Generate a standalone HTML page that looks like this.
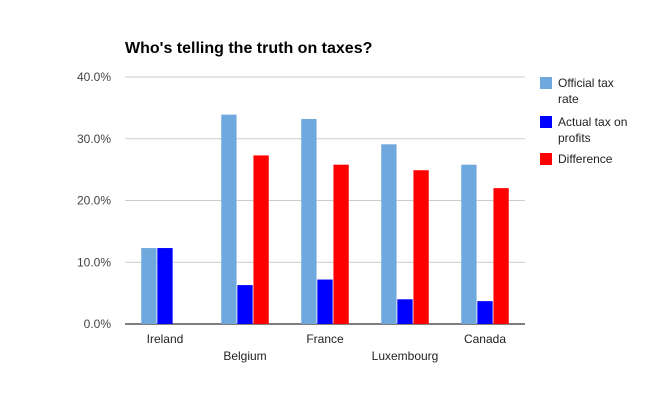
<!DOCTYPE html>
<html><head><meta charset="utf-8"><style>
body{margin:0;background:#fff;font-family:"Liberation Sans",Arial,sans-serif}
</style></head><body>
<svg id="chart" width="650" height="402" xmlns="http://www.w3.org/2000/svg" font-family="Liberation Sans, Arial, sans-serif">
<text x="125" y="53" font-size="16" font-weight="bold" fill="#000">Who's telling the truth on taxes?</text>
<g id="grid"></g><g id="bars"></g><g id="xlabels"></g><g id="ylabels"></g>
<g font-size="12" fill="#222">
<rect x="540" y="77" width="12" height="12" fill="#6fa8dc"/>
<text x="558" y="87">Official tax</text>
<text x="558" y="103">rate</text>
<rect x="540" y="116" width="12" height="12" fill="#0000ff"/>
<text x="558" y="126">Actual tax on</text>
<text x="558" y="142">profits</text>
<rect x="540" y="153" width="12" height="12" fill="#ff0000"/>
<text x="558" y="163">Difference</text>
</g>
</svg>
<script>
const categories=["Ireland","Belgium","France","Luxembourg","Canada"];
const officialRate=[12.3,33.9,33.2,29.1,25.8];
const actualTax=[12.3,6.3,7.2,4.0,3.7];
const difference=[0,27.3,25.8,24.9,22.0];
const yTicks=[0,10,20,30,40];
const ns="http://www.w3.org/2000/svg";
const L=125,R=525,T=77,B=324,yMax=40;
const y=v=>B-(v/yMax)*(B-T);
const band=(R-L)/categories.length;
function mk(tag,attrs,parent){const e=document.createElementNS(ns,tag);for(const k in attrs)e.setAttribute(k,attrs[k]);document.getElementById(parent).appendChild(e);return e;}
yTicks.forEach(t=>{
 const l=mk("line",{x1:L,x2:R,y1:y(t),y2:y(t),stroke:t===0?"#333":"#ccc","stroke-width":t===0?1.2:1},"grid");
 
 
 const tx=mk("text",{x:111,y:y(t)+4,"text-anchor":"end","font-size":12,fill:"#444"},"ylabels");
 tx.textContent=t.toFixed(1)+"%";
 
 
});
const series=[[officialRate,"#6fa8dc","official"],[actualTax,"#0000ff","actual"],[difference,"#ff0000","difference"]];
const bw=15.3,gap=0.8;
categories.forEach((c,i)=>{
 const x0=L+i*band+(band-3*bw-2*gap)/2;
 series.forEach((s,j)=>{
  const v=s[0][i]; if(v<=0)return;
  const r=mk("rect",{x:x0+j*(bw+gap),y:y(v),width:bw,height:B-y(v),fill:s[1]},"bars");
  
  
 });
 const tx=mk("text",{x:L+i*band+band/2,y:i%2===0?343:360,"text-anchor":"middle","font-size":12,fill:"#222"},"xlabels");
 tx.textContent=c;
 
 
});
</script>
</body></html>
